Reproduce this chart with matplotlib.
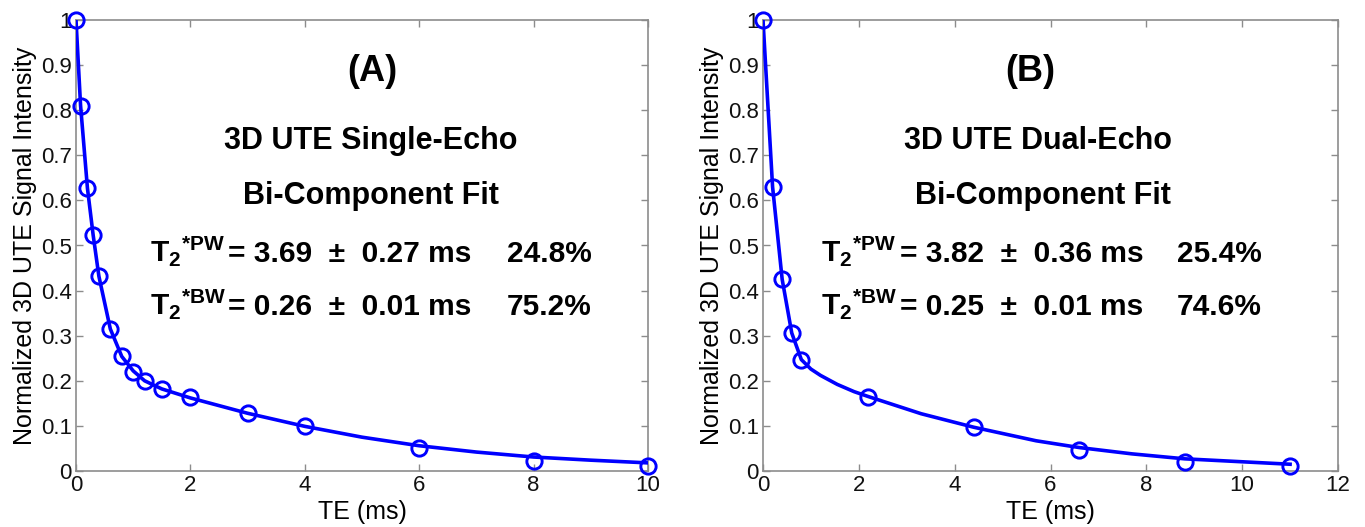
import matplotlib
matplotlib.use("Agg")
import matplotlib.pyplot as plt

plt.rcParams["font.family"] = ["Liberation Sans", "DejaVu Sans"]
plt.rcParams["mathtext.fontset"] = "custom"
plt.rcParams["mathtext.rm"] = "Liberation Sans"
plt.rcParams["mathtext.bf"] = "Liberation Sans:bold"

# ---------------- data ----------------
# (A) single-echo
te_a = [0.0, 0.08, 0.2, 0.3, 0.4, 0.6, 0.8, 1.0, 1.2, 1.5, 2.0, 3.0, 4.0, 6.0, 8.0, 10.0]
si_a = [1.0, 0.81, 0.627, 0.523, 0.432, 0.315, 0.254, 0.219, 0.199, 0.182, 0.164, 0.129, 0.099, 0.052, 0.022, 0.010]
fit_te_a = [0.0, 0.08, 0.2, 0.3, 0.4, 0.6, 0.8, 1.0, 1.2, 1.5, 2.0, 3.0, 4.0, 5.0, 6.0, 7.0, 8.0, 9.0, 10.0]
fit_si_a = [1.0, 0.81, 0.627, 0.523, 0.432, 0.315, 0.254, 0.222, 0.200, 0.182, 0.162, 0.128, 0.099, 0.075, 0.056, 0.042, 0.031, 0.024, 0.018]

# (B) dual-echo
te_b = [0.0, 0.2, 0.4, 0.6, 0.8, 2.2, 4.4, 6.6, 8.8, 11.0]
si_b = [1.0, 0.63, 0.425, 0.306, 0.247, 0.165, 0.097, 0.047, 0.019, 0.010]
fit_te_b = [0.0, 0.2, 0.4, 0.6, 0.8, 1.0, 1.2, 1.55, 1.9, 2.2, 3.3, 4.4, 5.7, 6.6, 7.7, 8.8, 11.0]
fit_si_b = [1.0, 0.63, 0.425, 0.306, 0.247, 0.226, 0.212, 0.192, 0.176, 0.165, 0.127, 0.097, 0.067, 0.052, 0.038, 0.027, 0.015]

labels_a = ["(A)", "3D UTE Single-Echo", "Bi-Component Fit"]
labels_b = ["(B)", "3D UTE Dual-Echo", "Bi-Component Fit"]
pw_a, bw_a = ("3.69", "0.27", "24.8%"), ("0.26", "0.01", "75.2%")
pw_b, bw_b = ("3.82", "0.36", "25.4%"), ("0.25", "0.01", "74.6%")

BLUE = "#0000ff"
GRAY = "#8c8c8c"


def t2_rows(ax, tag, vals, y, x_t, x_eq, x_end):
    t, err, frac = vals
    kw = dict(transform=ax.transAxes, va="baseline", fontsize=21.5, fontweight="bold")
    ax.text(x_t, y, r"$\mathbf{T_2}{}^{\mathbf{*" + tag + r"}}$", ha="left", **kw)
    ax.text(x_eq, y, f"= {t}  \u00b1  {err} ms", ha="left", **kw)
    ax.text(x_end, y, frac, ha="right", **kw)


def panel(ax, fit_te, fit_si, te, si, xmax, xticks, labels, pw, bw, xc, xt):
    ax.plot(fit_te, fit_si, color=BLUE, lw=2.6, zorder=3)
    ax.plot(te, si, "o", mfc="none", mec=BLUE, mew=2.1, ms=11, zorder=4, clip_on=False)
    ax.set_xlim(0, xmax)
    ax.set_ylim(0, 1)
    ax.set_xticks(xticks)
    ax.set_yticks([i / 10 for i in range(11)])
    ax.set_yticklabels(["0"] + [f"0.{i}" for i in range(1, 10)] + ["1"])
    ax.tick_params(direction="in", top=True, right=True, length=5, width=1,
                   color=GRAY, labelsize=16, labelcolor="#111111", pad=3)
    for s in ax.spines.values():
        s.set_color(GRAY)
        s.set_linewidth(1.2)
    ax.set_xlabel("TE (ms)", fontsize=18, labelpad=3)
    ax.set_ylabel("Normalized 3D UTE Signal Intensity", fontsize=18, labelpad=3)

    ax.text(xc[0], 0.885, labels[0], transform=ax.transAxes, ha="center",
            va="center", fontsize=26, fontweight="bold")
    ax.text(xc[1], 0.731, labels[1], transform=ax.transAxes, ha="center",
            va="center", fontsize=22, fontweight="bold")
    ax.text(xc[2], 0.610, labels[2], transform=ax.transAxes, ha="center",
            va="center", fontsize=22, fontweight="bold")
    t2_rows(ax, "PW", pw, 0.464, *xt)
    t2_rows(ax, "BW", bw, 0.346, *xt)


fig = plt.figure(figsize=(13.65, 5.27), dpi=100)
ax1 = fig.add_axes([76 / 1365, 56 / 527, 572 / 1365, 451 / 527])
ax2 = fig.add_axes([763 / 1365, 56 / 527, 575 / 1365, 451 / 527])

panel(ax1, fit_te_a, fit_si_a, te_a, si_a, 10, [0, 2, 4, 6, 8, 10],
      labels_a, pw_a, bw_a, (0.518, 0.516, 0.516), (0.129, 0.266, 0.902))
panel(ax2, fit_te_b, fit_si_b, te_b, si_b, 12, [0, 2, 4, 6, 8, 10, 12],
      labels_b, pw_b, bw_b, (0.464, 0.479, 0.486), (0.101, 0.238, 0.868))

fig.savefig("out.png", dpi=100)
